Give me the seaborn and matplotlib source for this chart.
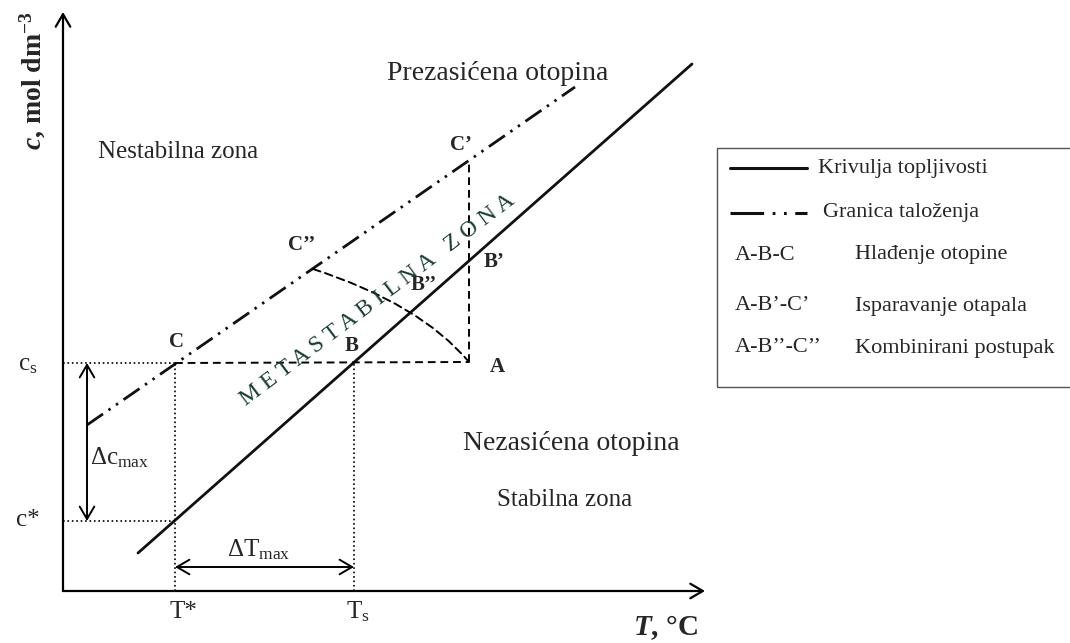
import matplotlib
matplotlib.use("Agg")
import matplotlib.pyplot as plt
import seaborn as sns
from matplotlib.patches import Rectangle

# schematic coordinates (1 unit = 1 pixel, c grows upwards)
origin = (63, 52)
T_axis_end = 705
c_axis_end = 631

T_star, T_s = 175, 354
c_star, c_s = 122, 280

# krivulja topljivosti (solubility curve)
sol_T = [138, 692]
sol_c = [90, 579]
# granica taloženja (metastable limit)
lim_T = [87, 575]
lim_c = [218, 556]

pt_A = (469, 281)
pt_Cp = (469, 483)
pt_Cpp = (313, 374)

point_names = ["C", "B", "A", "B’", "B’’", "C’’", "C’"]
point_name_xy = [(176, 301), (352, 297), (497, 276), (494, 381), (424, 358), (302, 398), (461, 498)]

zone_names = ["Prezasićena otopina", "Nestabilna zona", "Nezasićena otopina", "Stabilna zona"]
zone_xy = [(498, 570), (178, 491), (571, 200), (565, 143)]
zone_size = [20, 18, 20, 18]

legend_lines = ["Krivulja topljivosti", "Granica taloženja"]
legend_paths = ["A-B-C", "A-B’-C’", "A-B’’-C’’"]
legend_methods = ["Hlađenje otopine", "Isparavanje otapala", "Kombinirani postupak"]

dashdotdot = (0, (7, 2.4, 0.9, 2.4, 0.9, 2.4))
legend_dashdotdot = (0, (11, 2.8, 0.9, 2.8, 0.9, 2.8))
dashed = (0, (4, 2.5))

sns.set_style("white")
plt.rcParams['font.family'] = ['Liberation Serif', 'DejaVu Serif']
plt.rcParams['mathtext.fontset'] = 'custom'
plt.rcParams['mathtext.rm'] = 'Liberation Serif'
plt.rcParams['mathtext.it'] = 'Liberation Serif:italic'
plt.rcParams['mathtext.bf'] = 'Liberation Serif:bold'
plt.rcParams['mathtext.bfit'] = 'Liberation Serif:bold:italic'

fig = plt.figure(figsize=(10.7, 6.43), dpi=100)
ax = fig.add_axes([0, 0, 1, 1])
ax.set_xlim(0, 1070)
ax.set_ylim(0, 643)
ax.axis('off')

# axes with open arrow heads
axis_arrow = dict(arrowstyle='->,head_length=0.6,head_width=0.35', lw=1.6, color='k',
                  shrinkA=0, shrinkB=0, mutation_scale=15)
ax.annotate('', xy=(origin[0], c_axis_end), xytext=origin, arrowprops=axis_arrow)
ax.annotate('', xy=(T_axis_end, origin[1]), xytext=origin, arrowprops=axis_arrow)

# main lines
sns.lineplot(x=sol_T, y=sol_c, color='#111111', lw=2.0, ax=ax)
sns.lineplot(x=lim_T, y=lim_c, color='#111111', lw=2.0, linestyle=dashdotdot, ax=ax)

# process paths
ax.plot([T_star, pt_A[0]], [c_s, pt_A[1]], color='k', lw=1.4, ls=dashed)
ax.plot([pt_A[0], pt_Cp[0]], [pt_A[1], pt_Cp[1]], color='k', lw=1.4, ls=dashed)
ax.annotate('', xy=pt_A, xytext=pt_Cpp,
            arrowprops=dict(arrowstyle='-', color='k', lw=1.4, ls=dashed, shrinkA=0, shrinkB=0,
                            connectionstyle='angle3,angleA=-18,angleB=130'))

# guide lines
ax.plot([origin[0], T_star], [c_s, c_s], color='k', lw=1.2, ls=':')
ax.plot([origin[0], T_star], [c_star, c_star], color='k', lw=1.2, ls=':')
ax.plot([T_star, T_star], [origin[1], c_s], color='k', lw=1.2, ls=':')
ax.plot([T_s, T_s], [origin[1], c_s], color='k', lw=1.2, ls=':')

both_arrow = dict(arrowstyle='<->,head_length=0.6,head_width=0.35', lw=1.4, color='k',
                  shrinkA=0, shrinkB=0, mutation_scale=15)
ax.annotate('', xy=(87, c_s), xytext=(87, c_star), arrowprops=both_arrow)
ax.annotate('', xy=(T_s, 76), xytext=(T_star, 76), arrowprops=both_arrow)

# labels
ax.text(33, 562, r"$\mathbfit{c}$, mol dm$^{\mathbf{-3}}$", rotation=90, ha='center', va='center',
        fontsize=20, fontweight='bold')
ax.text(665, 15, r"$\mathbfit{T}$, °C", ha='center', va='center', fontsize=21, fontweight='bold')
ax.text(183, 31, "T*", ha='center', va='center', fontsize=18)
ax.text(358, 31, r"T$_\mathrm{s}$", ha='center', va='center', fontsize=18)
ax.text(28, 278, r"c$_\mathrm{s}$", ha='center', va='center', fontsize=18)
ax.text(28, 123, "c*", ha='center', va='center', fontsize=18)
ax.text(120, 185, r"Δc$_\mathrm{max}$", ha='center', va='center', fontsize=18)
ax.text(259, 93, r"ΔT$_\mathrm{max}$", ha='center', va='center', fontsize=18)

for name, (x, y) in zip(point_names, point_name_xy):
    ax.text(x, y, name, ha='center', va='center', fontsize=15, fontweight='bold')

for name, (x, y), fs in zip(zone_names, zone_xy, zone_size):
    ax.text(x, y, name, ha='center', va='center', fontsize=fs)

ax.text(378, 343, "M E T A S T A B I L N A   Z O N A", rotation=37, rotation_mode='anchor',
        ha='center', va='center', color='#173f31', fontsize=17)

# legend box
ax.add_patch(Rectangle((717, 256), 360, 239, fill=False, ec='#555555', lw=1))
leg_y = [475, 430]
ax.plot([730, 807], [leg_y[0]] * 2, color='#111111', lw=2.2)
ax.plot([730, 807], [leg_y[1]] * 2, color='#111111', lw=2.2, ls=legend_dashdotdot)
ax.text(818, leg_y[0], legend_lines[0], va='center', fontsize=16)
ax.text(823, leg_y[1], legend_lines[1], va='center', fontsize=16)
for p, m, y in zip(legend_paths, legend_methods, [388, 337, 295]):
    ax.text(735, y, p, va='center', fontsize=16)
    ax.text(855, y, m, va='center', fontsize=16)

fig.savefig("out.png", dpi=100)
